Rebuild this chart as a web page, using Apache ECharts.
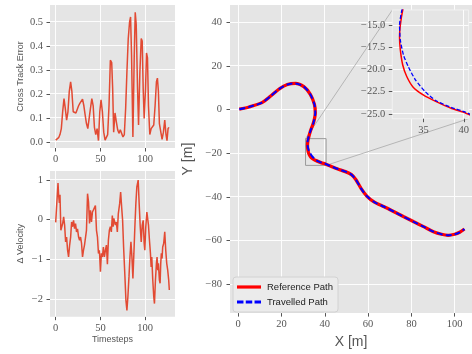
<!DOCTYPE html>
<html><head><meta charset="utf-8">
<script src="https://cdn.jsdelivr.net/npm/echarts@6/dist/echarts.min.js"></script>
<style>html,body{margin:0;padding:0;background:#fff}#c{width:472px;height:354px}</style>
</head><body><div id="c"></div><script>
// ---- data ----
const cteSteps = [0,1.9,3.3,4.8,6.3,7.8,9.3,10.7,12.2,13.7,15.2,16.7,18.1,19.6,21.1,22.6,24.1,25.6,27,28.5,30,31.5,33,34.4,35.9,37.4,38.9,40.4,41.9,43.3,44.8,46.3,47.8,49.3,50.7,52.2,53.7,55.2,56.7,58.1,59.6,61.1,62.6,63.7,64.8,66.3,67.8,69.3,70.7,72.2,73.7,75.2,76.7,78.2,79.6,81.1,82.6,83.7,84.8,86.3,87.8,88.9,90,91.5,92.6,94.1,95.6,96.7,97.8,98.9,100.4,101.5,102.6,103.7,105.2,106.7,108.2,109.6,111.1,112.6,113.7,114.8,115.9,117.4,118.9,120.4,121.9,123.3,124.4,125.6,126.7];
const cteValues = [0.007,0.01,0.017,0.03,0.055,0.125,0.18,0.14,0.09,0.125,0.21,0.25,0.21,0.125,0.118,0.12,0.128,0.15,0.16,0.165,0.178,0.15,0.11,0.076,0.055,0.05,0.14,0.18,0.15,0.06,0.03,0.055,0.005,0.125,0.175,0.125,0.04,0.007,0.003,0.03,0.15,0.34,0.33,0.22,0.04,0.12,0.083,0.05,0.035,0.05,0.035,0.02,0.03,0.14,0.29,0.43,0.5,0.52,0.36,0.02,0.36,0.54,0.49,0.22,0.07,0.29,0.43,0.42,0.22,0.097,0.22,0.37,0.35,0.15,0.03,0.055,0.06,0.07,0.15,0.25,0.265,0.21,0.076,0.07,0.01,0.04,0.09,0.03,0.005,0.055,0.06];

const velSteps = [0,1.5,2.6,3.3,4.1,4.8,5.8,6.7,7.8,8.9,10,11.1,12.2,13.3,14.4,15.6,16.7,17.8,18.9,20,21.1,22.2,23.3,24.4,25.6,26.7,27.8,28.9,30,31.1,32.2,33.3,34.4,35.6,36.7,37.8,38.9,40,41.1,42.2,43.3,44.4,45.6,46.7,47.8,48.9,50,51.1,52.2,53.3,54.4,55.6,56.7,57.8,58.9,60,61.1,62.2,63.3,64.2,65,65.8,66.7,67.8,68.9,70,71.5,72.6,73.7,74.8,75.9,77.4,78.5,79.6,80.7,81.9,83,84.1,85.2,86.3,87.4,88.5,89.6,90.7,92.2,93.3,94.5,95.6,96.7,97.8,98.9,99.6,100.7,101.9,102.6,103.7,104.8,105.9,106.7,107.4,108.5,109.6,110.4,111.5,112.6,113.3,114.1,114.8,115.9,116.7,117.4,118.1,118.9,119.6,120.7,121.9,123,124.1,125.2,126.3,127];
const velValues = [-0.07,0.5,0.92,0.61,0.42,0.62,-0.27,-0.31,-0.1,0.07,-0.14,-0.56,-0.44,-0.77,-0.94,-0.64,-0.44,-0.06,-0.18,-0.02,-0.23,-0.1,-0.31,-0.23,-0.44,-0.52,-0.44,-0.6,-0.94,-0.77,-0.64,-0.6,-0.27,0.65,0.44,-0.1,0.23,-0.06,0.19,0.15,0.23,0.35,-0.27,-0.44,-0.85,-0.77,-1.31,-0.85,-0.94,-0.69,-0.94,-0.77,-0.64,-1.12,-0.52,-0.27,-0.18,-0.31,0.1,-0.18,0.03,-0.02,-0.14,-0.06,-0.31,0.15,0.4,0.69,0.32,-0.02,-0.69,-1.44,-2.03,-2.28,-1.94,-1.44,-0.94,-0.56,-0.94,-1.48,-0.85,-0.18,0.4,0.82,0.99,0.4,-0.18,-0.56,-0.14,-0.02,-0.6,-0.77,-0.18,0.19,0.23,-0.14,-0.52,-0.85,-1.19,-0.94,-1.52,-1.94,-2.11,-1.52,-1.1,-0.94,-1.27,-1.1,-1.52,-1.6,-1.1,-0.85,-0.98,-0.69,-0.6,-0.31,-0.77,-1.1,-1.27,-1.52,-1.77];

const refX = [0.5,5,11,15,19,22.7,26.5,30.3,33.3,35.2,35.6,34.8,33.4,32.4,32.1,32.0,32.1,32.4,32.9,33.7,35,36.5,38.5,40.2,42,46,49.5,52.3,54.3,56.8,59.5,62.9,67.4,72,76.5,81.1,85.6,90.2,93.9,97,100,102.3,104.5];
const refY = [0.2,1.2,3.2,6.2,9.5,11.5,12,10.5,7,2.4,-1.4,-5.9,-9.7,-13.3,-15,-16.3,-17.8,-19.5,-20.8,-22,-22.9,-23.6,-24.4,-24.9,-25.6,-27.2,-28.4,-29.8,-32,-36.2,-39.7,-42.4,-44.5,-46.8,-49.1,-51.4,-53.6,-55.9,-57.1,-57.6,-57.1,-56.2,-54.7];
const travX = [0.5,5,11,15,19,22.7,26.5,30.3,33.3,35.2,35.6,34.8,33.4,32.3,32.0,32.1,32.5,33.1,34.0,35.2,36.5,38.5,40.2,42,46,49.5,52.3,54.3,56.8,59.5,62.9,67.4,72,76.5,81.1,85.6,90.2,93.9,97,100,102.3,104.5];
const travY = [0.2,1.2,3.2,6.2,9.5,11.5,12,10.5,7,2.4,-1.4,-5.9,-9.7,-13.3,-15,-16.7,-18.4,-19.7,-21.2,-22.5,-23.5,-24.3,-24.8,-25.6,-27.2,-28.4,-29.8,-32,-36.2,-39.7,-42.4,-44.5,-46.8,-49.1,-51.4,-53.6,-55.9,-57.1,-57.6,-57.1,-56.2,-54.7];

const insetXRange = [31.1, 40.6];
const insetYRange = [-25.55, -13.3];

const cteYTicks = [0, 0.1, 0.2, 0.3, 0.4, 0.5];
const velYTicks = [-2, -1, 0, 1];
const stepTicks = [0, 50, 100];
const mainXTicks = [0, 20, 40, 60, 80, 100];
const mainYTicks = [-80, -60, -40, -20, 0, 20, 40];
const insetXTicks = [35, 40];
const insetYTicks = [-25, -22.5, -20, -17.5, -15];

// ---- axis extents (layout) ----
const stepRange = [-6.35, 133.35];
const cteRange = [-0.026, 0.57];
const velRange = [-2.44, 1.22];
const mainXRange = [-3.8, 108];
const mainYRange = [-93.2, 47.9];

// ---- helpers ----
const GRAY = '#555555';
const minus = s => String(s).replace('-', '\u2212');
const zip = (a, b) => a.map((v, i) => [v, b[i]]);

function axis(o) {
  return Object.assign({
    type: 'value',
    axisLine: { show: false, onZero: false },
    axisTick: { show: true, length: 3.5, lineStyle: { color: GRAY, width: 1 }, customValues: o.ticks },
    axisLabel: { color: GRAY, fontFamily: 'Liberation Serif', fontSize: 10.5, margin: o.margin,
                 customValues: o.ticks, formatter: o.fmt || (v => minus(v)) },
    splitLine: { show: false },
    nameTextStyle: { color: GRAY, fontFamily: 'Liberation Sans', fontSize: o.nameSize || 9 }
  }, o.extra);
}

const chart = echarts.init(document.getElementById('c'));

const dashIcon = 'path://M0,0h7v3h-7z M9.5,0h7v3h-7z M19,0h7v3h-7z';

const option = {
  animation: false,
  grid: [
    { left: 50, top: 5, width: 125, height: 143, show: true, backgroundColor: '#E5E5E5', borderWidth: 0 },
    { left: 50, top: 171, width: 125, height: 145.7, show: true, backgroundColor: '#E5E5E5', borderWidth: 0 },
    { left: 230, top: 5, width: 246, height: 310.5, show: true, backgroundColor: '#E5E5E5', borderWidth: 0 },
    { left: 392.3, top: 10, width: 82.6, height: 108.7, show: true, backgroundColor: '#E5E5E5', borderColor: '#F2F2F2', borderWidth: 1, z: 5 }
  ],
  xAxis: [
    axis({ ticks: stepTicks, margin: 6, extra: { gridIndex: 0, min: stepRange[0], max: stepRange[1] } }),
    axis({ ticks: stepTicks, margin: 6, extra: { gridIndex: 1, min: stepRange[0], max: stepRange[1], name: 'Timesteps', nameLocation: 'middle', nameGap: 18 } }),
    axis({ ticks: mainXTicks, margin: 6, nameSize: 14, extra: { gridIndex: 2, min: mainXRange[0], max: mainXRange[1], name: 'X [m]', nameLocation: 'middle', nameGap: 19 } }),
    axis({ ticks: insetXTicks, margin: 6, extra: { gridIndex: 3, min: insetXRange[0], max: insetXRange[1], z: 7 } })
  ],
  yAxis: [
    axis({ ticks: cteYTicks, margin: 7, fmt: v => v.toFixed(1), extra: { gridIndex: 0, min: cteRange[0], max: cteRange[1], name: 'Cross Track Error', nameLocation: 'middle', nameGap: 25 } }),
    axis({ ticks: velYTicks, margin: 7, extra: { gridIndex: 1, min: velRange[0], max: velRange[1], name: '\u0394 Velocity', nameLocation: 'middle', nameGap: 25 } }),
    axis({ ticks: mainYTicks, margin: 8, nameSize: 14, extra: { gridIndex: 2, min: mainYRange[0], max: mainYRange[1], name: 'Y [m]', nameLocation: 'middle', nameGap: 31 } }),
    axis({ ticks: insetYTicks, margin: 7, fmt: v => minus(v.toFixed(1)), extra: { gridIndex: 3, min: insetYRange[0], max: insetYRange[1], z: 7 } })
  ],
  legend: {
    data: [
      { name: 'Reference Path', icon: 'rect', itemStyle: { color: '#FF0000' } },
      { name: 'Travelled Path', icon: dashIcon, itemStyle: { color: '#0000FF' } }
    ],
    orient: 'vertical', left: 233, top: 277,
    backgroundColor: '#EBEBEB', borderColor: '#D2D2D2', borderWidth: 1, borderRadius: 3,
    padding: [5, 5, 5, 4], itemGap: 5, itemWidth: 24, itemHeight: 3.2,
    textStyle: { color: '#222222', fontFamily: 'Liberation Sans', fontSize: 9.5, padding: [0, 0, 0, 1] }
  },
  series: [
    { type: 'line', xAxisIndex: 0, yAxisIndex: 0, data: zip(cteSteps, cteValues), symbol: 'none', z: 2,
      lineStyle: { color: '#E24A33', width: 1.5 } },
    { type: 'line', xAxisIndex: 1, yAxisIndex: 1, data: zip(velSteps, velValues), symbol: 'none', z: 2,
      lineStyle: { color: '#E24A33', width: 1.5 } },
    { type: 'line', name: 'zoomRect', xAxisIndex: 2, yAxisIndex: 2, z: 1.5, symbol: 'none',
      data: [[insetXRange[0], insetYRange[1]], [insetXRange[1], insetYRange[1]], [insetXRange[1], insetYRange[0]], [insetXRange[0], insetYRange[0]], [insetXRange[0], insetYRange[1]]],
      lineStyle: { color: '#9A9A9A', width: 1 } },
    { type: 'line', name: 'Reference Path', xAxisIndex: 2, yAxisIndex: 2, data: zip(refX, refY), symbol: 'none', smooth: 0.25, z: 2,
      itemStyle: { color: '#FF0000' }, lineStyle: { color: '#FF0000', width: 3.3 } },
    { type: 'line', name: 'Travelled Path', xAxisIndex: 2, yAxisIndex: 2, data: zip(travX, travY), symbol: 'none', smooth: 0.25, z: 2,
      itemStyle: { color: '#0000FF' }, lineStyle: { color: '#0000FF', width: 2, type: [6, 3] } },
    { type: 'line', name: 'Reference Path', xAxisIndex: 3, yAxisIndex: 3, data: zip(refX, refY), symbol: 'none', smooth: 0.2, z: 8,
      itemStyle: { color: '#FF0000' }, lineStyle: { color: '#FF0000', width: 1.5 } },
    { type: 'line', name: 'Travelled Path', xAxisIndex: 3, yAxisIndex: 3, data: zip(travX, travY), symbol: 'none', smooth: 0.2, z: 8,
      itemStyle: { color: '#0000FF' }, lineStyle: { color: '#0000FF', width: 1.3, type: [4, 2] } }
  ]
};
chart.setOption(option);

// grid lines as 1px filled rectangles placed through each grid's axes, plus inset connectors
const graphics = [];
function gridRects(ai, xTicks, yTicks, xr, yr, z) {
  const f = p => chart.convertToPixel({ xAxisIndex: ai, yAxisIndex: ai }, p);
  const tl = f([xr[0], yr[1]]), br = f([xr[1], yr[0]]);
  xTicks.forEach(v => {
    const p = f([v, yr[0]]);
    graphics.push({ type: 'rect', z, silent: true,
      shape: { x: Math.floor(p[0]), y: tl[1], width: 1, height: br[1] - tl[1] },
      style: { fill: '#FDFDFD', stroke: null } });
  });
  yTicks.forEach(v => {
    const p = f([xr[0], v]);
    graphics.push({ type: 'rect', z, silent: true,
      shape: { x: tl[0], y: Math.floor(p[1]), width: br[0] - tl[0], height: 1 },
      style: { fill: '#FDFDFD', stroke: null } });
  });
}
gridRects(0, stepTicks, cteYTicks, stepRange, cteRange, 1);
gridRects(1, stepTicks, velYTicks, stepRange, velRange, 1);
gridRects(2, mainXTicks, mainYTicks, mainXRange, mainYRange, 1);
gridRects(3, insetXTicks, insetYTicks, insetXRange, insetYRange, 6);

const rTL = chart.convertToPixel({ xAxisIndex: 2, yAxisIndex: 2 }, [insetXRange[0], insetYRange[1]]);
const rBR = chart.convertToPixel({ xAxisIndex: 2, yAxisIndex: 2 }, [insetXRange[1], insetYRange[0]]);
const iTL = chart.convertToPixel({ xAxisIndex: 3, yAxisIndex: 3 }, [insetXRange[0], insetYRange[1]]);
const iBR = chart.convertToPixel({ xAxisIndex: 3, yAxisIndex: 3 }, [insetXRange[1], insetYRange[0]]);
graphics.push({ type: 'line', z: 1, silent: true, shape: { x1: rTL[0], y1: rTL[1], x2: iTL[0], y2: iTL[1] }, style: { stroke: '#A8A8A8', lineWidth: 0.8 } });
graphics.push({ type: 'line', z: 1, silent: true, shape: { x1: rBR[0], y1: rBR[1], x2: iBR[0], y2: iBR[1] }, style: { stroke: '#A8A8A8', lineWidth: 0.8 } });
chart.setOption({ graphic: graphics });
</script></body></html>
